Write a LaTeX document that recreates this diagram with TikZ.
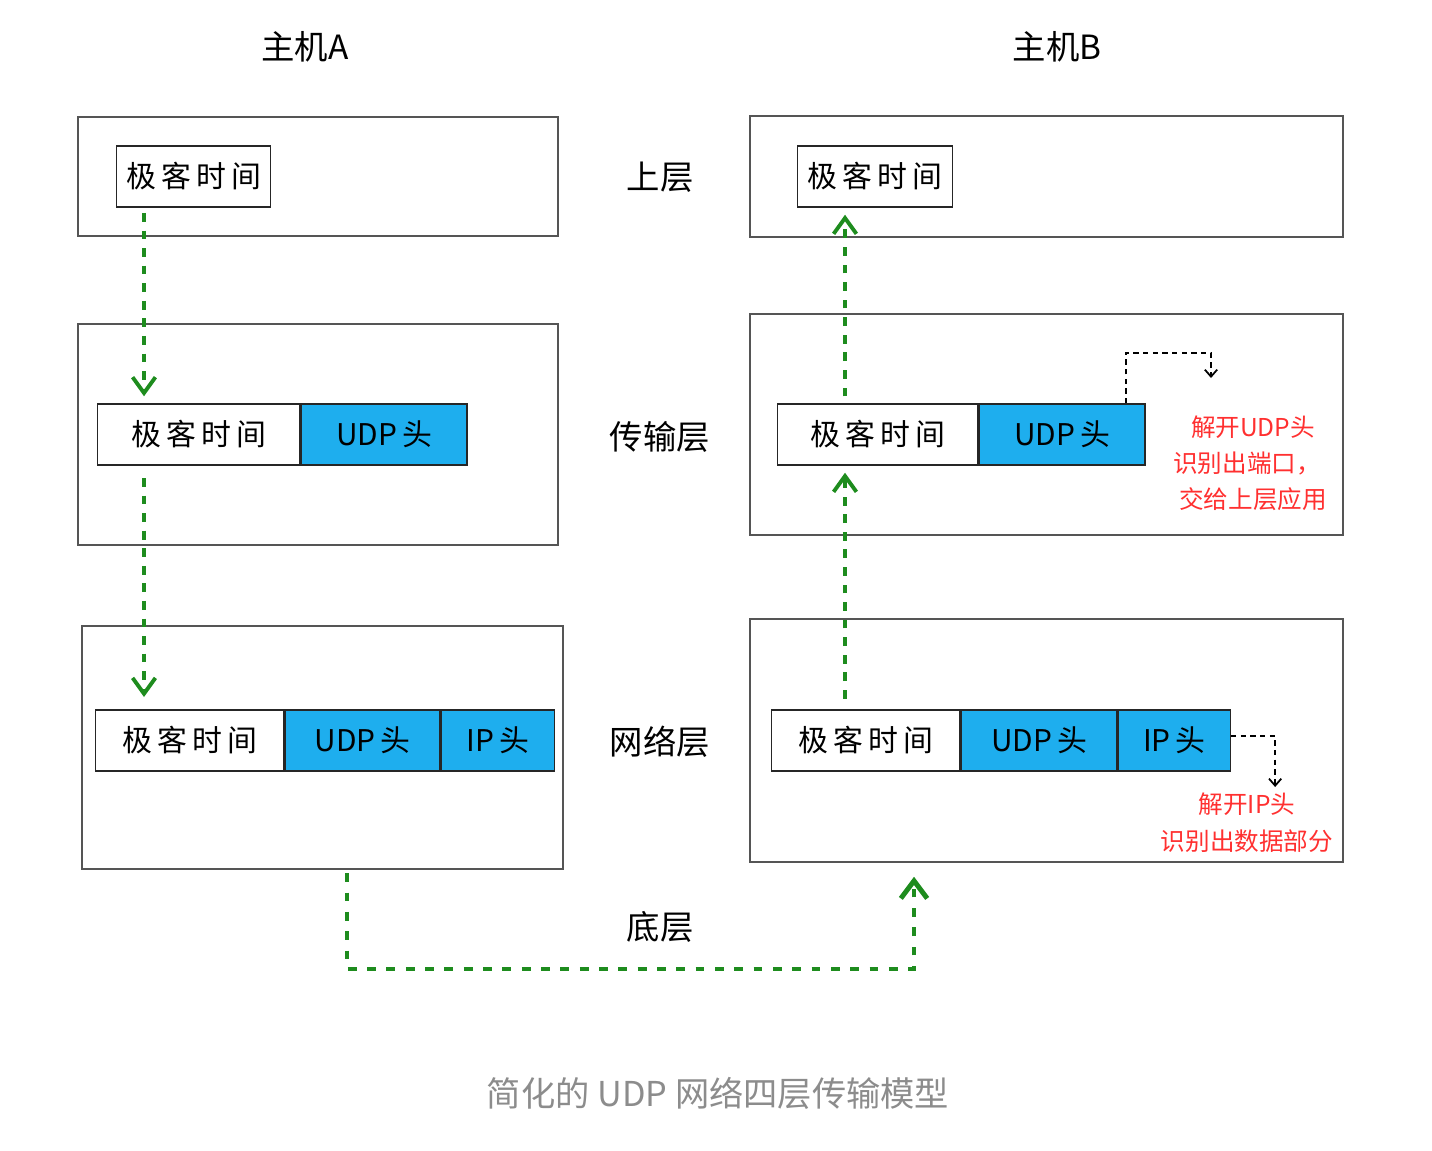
\documentclass[tikz,border=0pt]{standalone}
\usepackage{fontspec}
\setmainfont{Noto Sans CJK SC}
\usetikzlibrary{arrows.meta, positioning, calc}
\definecolor{udpblue}{HTML}{1EAEEE}
\definecolor{flowgreen}{HTML}{1E8C1E}
\definecolor{notered}{HTML}{FF3030}
\definecolor{boxgrey}{HTML}{555555}
\definecolor{capgrey}{HTML}{8C8C8C}

\begin{document}
\begin{tikzpicture}[x=0.02cm, y=-0.02cm,
  hostbox/.style={draw=boxgrey, line width=0.8pt, inner sep=0pt},
  cell/.style={draw=black!85, line width=0.8pt, minimum height=1.22cm, inner sep=0pt,
    font=\fontsize{17}{19}\selectfont},
  hdr/.style={cell, fill=udpblue},
  layer/.style={font=\fontsize{19}{22}\selectfont},
  flow/.style={flowgreen, line width=2.2pt, dash pattern=on 5pt off 5pt,
    -{Straight Barb[length=9pt, width=13pt]}},
  note/.style={black, line width=1pt, dash pattern=on 3pt off 2.5pt,
    -{Straight Barb[length=4pt, width=7pt]}},
  remark/.style={notered, font=\fontsize{14}{16}\selectfont}]
  \def\geek{极\,客\,时\,间}
  \useasboundingbox (0,0) rectangle (1432,1150);

  % hosts and layers
  \node[layer] (ha) at (305,47) {主机A};
  \node[layer] (hb) at (1057,47) {主机B};
  \foreach \n/\y/\txt in {lup/177/上层, ltr/437/传输层, lnw/742/网络层, lbt/927/底层}
    \node[layer] (\n) at (660,\y) {\txt};

  \node[hostbox, minimum width=9.6cm, minimum height=2.38cm] (aup) at (318,176.5) {};
  \node[hostbox, minimum width=9.6cm, minimum height=4.42cm] (atr) at (318,434.5) {};
  \node[hostbox, minimum width=9.62cm, minimum height=4.86cm] (anw) at (322.5,747.5) {};
  \node[hostbox, minimum width=11.86cm, minimum height=2.42cm] (bup) at (1046.5,176.5) {};
  \node[hostbox, minimum width=11.86cm, minimum height=4.42cm] (btr) at (1046.5,424.5) {};
  \node[hostbox, minimum width=11.86cm, minimum height=4.86cm] (bnw) at (1046.5,740.5) {};

  % packets, host A
  \node[cell, anchor=west, minimum width=3.08cm] (aupd) at (116,176.5) {\geek};
  \node[cell, anchor=west, minimum width=4.04cm] (atrd) at (97,434.5) {\geek};
  \node[hdr, right=0pt of atrd, minimum width=3.32cm] (atru) {UDP\,头};
  \node[cell, anchor=west, minimum width=3.76cm] (anwd) at (95,740.5) {\geek};
  \node[hdr, right=0pt of anwd, minimum width=3.1cm] (anwu) {UDP\,头};
  \node[hdr, right=0pt of anwu, minimum width=2.26cm] (anwi) {IP\,头};

  % packets, host B
  \node[cell, anchor=west, minimum width=3.1cm] (bupd) at (797,176.5) {\geek};
  \node[cell, anchor=west, minimum width=4.0cm] (btrd) at (777,434.5) {\geek};
  \node[hdr, right=0pt of btrd, minimum width=3.32cm] (btru) {UDP\,头};
  \node[cell, anchor=west, minimum width=3.76cm] (bnwd) at (771,740.5) {\geek};
  \node[hdr, right=0pt of bnwd, minimum width=3.12cm] (bnwu) {UDP\,头};
  \node[hdr, right=0pt of bnwu, minimum width=2.24cm] (bnwi) {IP\,头};

  \node[remark] (r1) at (1253,427) {解开UDP头};
  \node[remark] (r2) at (1247,463) {识别出端口，};
  \node[remark] (r3) at (1253,499) {交给上层应用};
  \node[remark] (r4) at (1247,804) {解开IP头};
  \node[remark] (r5) at (1247,841) {识别出数据部分};

  % connectors
  \coordinate (ax) at (144,0);
  \coordinate (bx) at (845,0);
  \coordinate (aout) at (347,0);
  \coordinate (bin) at (914,0);
  \coordinate (floor) at (0,969);
  \coordinate (ntop) at (1211,353);

  \draw[flow, shorten <=3pt, shorten >=4pt] (aupd.south -| ax) -- (atrd.north -| ax);
  \draw[flow, shorten <=7pt, shorten >=7pt] (atrd.south -| ax) -- (anwd.north -| ax);
  \draw[flow, line width=2.8pt, dash pattern=on 5pt off 6pt, shorten <=2pt, shorten >=8pt,
    -{Straight Barb[length=10pt, width=15pt]}]
    (anw.south -| aout) |- (floor -| bin) -- (bnw.south -| bin);
  \draw[flow, shorten <=6pt, shorten >=4pt] (bnwd.north -| bx) -- (btrd.south -| bx);
  \draw[flow, shorten <=4pt, shorten >=4pt] (btrd.north -| bx) -- (bupd.south -| bx);

  \draw[note] ([xshift=-0.4cm]btru.north east) |- (ntop) -- ++(0,25);
  \draw[note] ([yshift=0.09cm]bnwi.east) -| ++(44,51);

  \node[font=\fontsize{19.5}{22}\selectfont, capgrey] (cap) at (718,1093)
    {简化的 UDP 网络四层传输模型};
\end{tikzpicture}
\end{document}
